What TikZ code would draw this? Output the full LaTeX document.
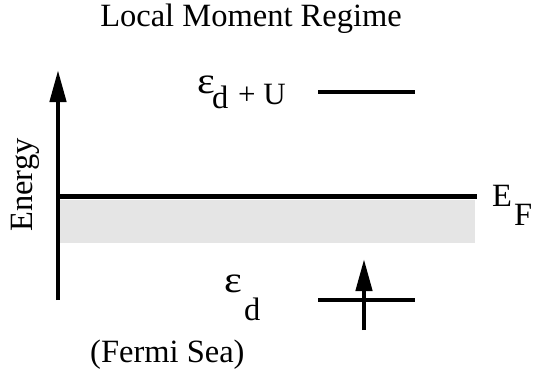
\documentclass[tikz,border=0pt]{standalone}
\usepackage{fontspec}
\setmainfont{Liberation Serif}
\usetikzlibrary{arrows.meta}
\newcommand{\eps}{\scalebox{1.3}[1.15]{ε}}
\tikzset{
  level/.style={line width=4.5pt},
  lbl/.style={inner sep=0pt, anchor=base west, font=\fontsize{32.5}{36}\selectfont},
  bigtip/.style={-{Triangle[length=32pt,width=16pt]}}
}
\begin{document}
\begin{tikzpicture}[x=1pt,y=-1pt]
\useasboundingbox (0,0) rectangle (533,373);
\fill [black!10] (60,200) rectangle (475,243);
\coordinate (axisbot) at (58,300);
\coordinate (axistop) at (58,70);
\draw [level, bigtip] (axisbot) -- (axistop);
\coordinate (fl) at (58,196.5);
\coordinate (fr) at (477,196.5);
\draw [level] (fl) -- (fr);
\coordinate (ul) at (318,92);
\coordinate (ur) at (415,92);
\draw [level] (ul) -- (ur);
\coordinate (ll) at (318,300);
\coordinate (lr) at (415,300);
\draw [level] (ll) -- (lr);
\coordinate (spinbot) at (364,330);
\coordinate (spintop) at (364,259);
\draw [level, bigtip] (spinbot) -- (spintop);
\node (title) [lbl, anchor=base] at (251,26) {Local Moment Regime};
\node (energy) [lbl, anchor=base, rotate=90] at (32,185) {Energy};
\node (ef) [lbl] at (492,206) {E};
\node (efsub) [lbl] at (514,225) {F};
\node (upper) [lbl] at (197,93) {\eps};
\node (uppersub) [lbl] at (212,108) {d};
\node (plusu) [lbl, font=\fontsize{31}{34}\selectfont] at (238,104) {+ U};
\node (lower) [lbl] at (224,292) {\eps};
\node (lowersub) [lbl] at (244,320) {d};
\node (sea) [lbl] at (90,362) {(Fermi Sea)};
\end{tikzpicture}
\end{document}
